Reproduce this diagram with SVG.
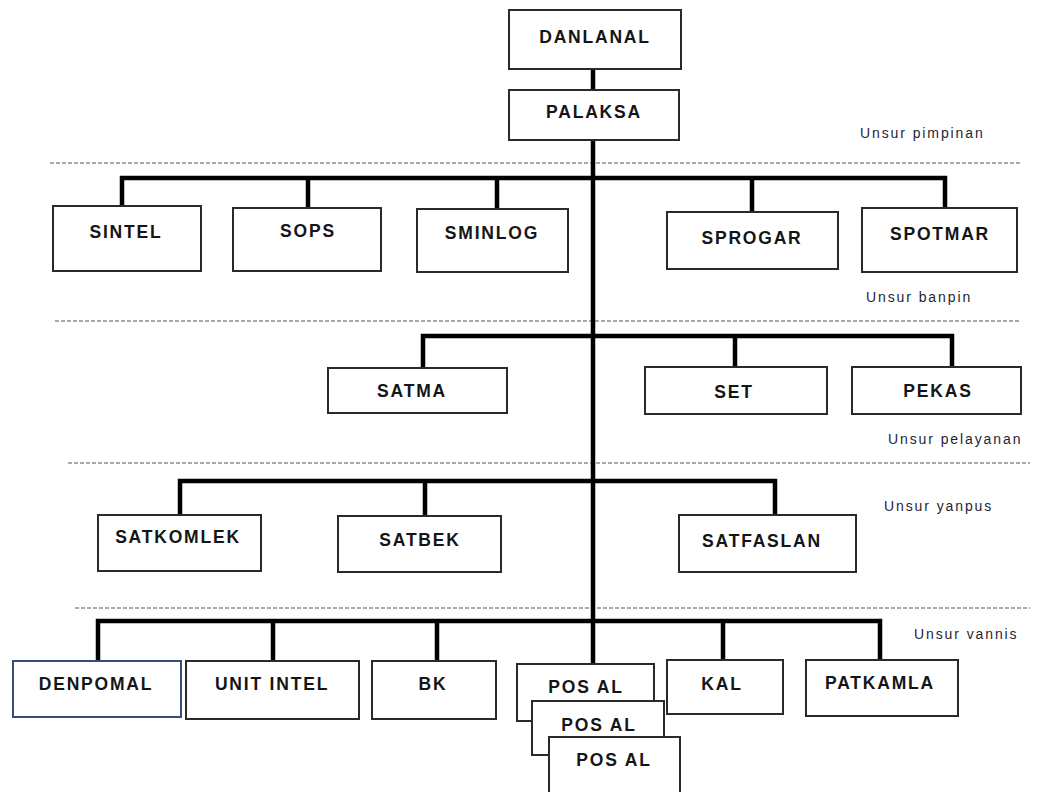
<svg xmlns="http://www.w3.org/2000/svg" width="1037" height="792" viewBox="0 0 1037 792">
<style>
.box{fill:#fff;stroke:#2a2a2a;stroke-width:2}
.t{font-family:"Liberation Sans",Arial,sans-serif;font-weight:bold;font-size:17.5px;letter-spacing:1.8px;fill:#151515;text-anchor:middle}
.lbl{font-family:"Liberation Sans",Arial,sans-serif;font-size:14px;letter-spacing:1.9px;fill:#1f1f33}
.dash{stroke:#555;stroke-width:1.2;stroke-dasharray:4 2;fill:none}
.c{stroke:#000;stroke-width:4.5;fill:none;stroke-linejoin:miter;stroke-linecap:square}
</style>
<rect width="1037" height="792" fill="#fff"/>
<g id="dividers">
<line class="dash" x1="50" y1="163" x2="1020" y2="163"/>
<line class="dash" x1="55" y1="321" x2="1020" y2="321"/>
<line class="dash" x1="68" y1="463" x2="1030" y2="463"/>
<line class="dash" x1="75" y1="608" x2="1030" y2="608"/>
</g>
<g id="labels">
<text class="lbl" x="860" y="138">Unsur pimpinan</text>
<text class="lbl" x="866" y="302">Unsur banpin</text>
<text class="lbl" x="888" y="444">Unsur pelayanan</text>
<text class="lbl" x="884" y="511">Unsur yanpus</text>
<text class="lbl" x="914" y="639">Unsur vannis</text>
</g>
<g id="connectors">
<line class="c" x1="593" y1="69" x2="593" y2="90"/>
<line class="c" x1="593" y1="140" x2="593" y2="664"/>
<path class="c" d="M122 207V178H945V208M308 178V209M497 178V209M752 178V212"/>
<path class="c" d="M423 368V336H952V367M735 336V367"/>
<path class="c" d="M180 515V481H775V515M425 481V516"/>
<path class="c" d="M98 661V621H880V660M273 621V661M437 621V661M723 621V660"/>
</g>
<g id="danlanal"><rect class="box" x="509" y="10" width="172" height="59"/><text class="t" x="595" y="43">DANLANAL</text></g>
<g id="palaksa"><rect class="box" x="509" y="90" width="170" height="50"/><text class="t" x="594" y="118">PALAKSA</text></g>
<g id="sintel"><rect class="box" x="53" y="206" width="148" height="65"/><text class="t" x="126" y="238">SINTEL</text></g>
<g id="sops"><rect class="box" x="233" y="208" width="148" height="63"/><text class="t" x="308" y="237">SOPS</text></g>
<g id="sminlog"><rect class="box" x="417" y="209" width="151" height="63"/><text class="t" x="492" y="239">SMINLOG</text></g>
<g id="sprogar"><rect class="box" x="667" y="212" width="171" height="57"/><text class="t" x="752" y="244">SPROGAR</text></g>
<g id="spotmar"><rect class="box" x="862" y="208" width="155" height="64"/><text class="t" x="940" y="240">SPOTMAR</text></g>
<g id="satma"><rect class="box" x="328" y="368" width="179" height="45"/><text class="t" x="412" y="397">SATMA</text></g>
<g id="set"><rect class="box" x="645" y="367" width="182" height="47"/><text class="t" x="734" y="398">SET</text></g>
<g id="pekas"><rect class="box" x="852" y="367" width="169" height="47"/><text class="t" x="938" y="397">PEKAS</text></g>
<g id="satkomlek"><rect class="box" x="98" y="515" width="163" height="56"/><text class="t" x="178" y="543">SATKOMLEK</text></g>
<g id="satbek"><rect class="box" x="338" y="516" width="163" height="56"/><text class="t" x="420" y="546">SATBEK</text></g>
<g id="satfaslan"><rect class="box" x="679" y="515" width="177" height="57"/><text class="t" x="762" y="547">SATFASLAN</text></g>
<g id="denpomal"><rect class="box" x="13" y="661" width="168" height="56" style="stroke:#3a4a7a"/><text class="t" x="96" y="690">DENPOMAL</text></g>
<g id="unit-intel"><rect class="box" x="186" y="661" width="173" height="58"/><text class="t" x="272" y="690">UNIT INTEL</text></g>
<g id="bk"><rect class="box" x="372" y="661" width="124" height="58"/><text class="t" x="433" y="690">BK</text></g>
<g id="pos-al-1"><rect class="box" x="517" y="664" width="137" height="57"/><text class="t" x="586" y="693">POS AL</text></g>
<g id="pos-al-2"><rect class="box" x="532" y="701" width="132" height="54"/><text class="t" x="599" y="731">POS AL</text></g>
<g id="pos-al-3"><rect class="box" x="549" y="737" width="131" height="58"/><text class="t" x="614" y="766">POS AL</text></g>
<g id="kal"><rect class="box" x="667" y="660" width="116" height="54"/><text class="t" x="722" y="690">KAL</text></g>
<g id="patkamla"><rect class="box" x="806" y="660" width="152" height="56"/><text class="t" x="880" y="689">PATKAMLA</text></g>
</svg>
